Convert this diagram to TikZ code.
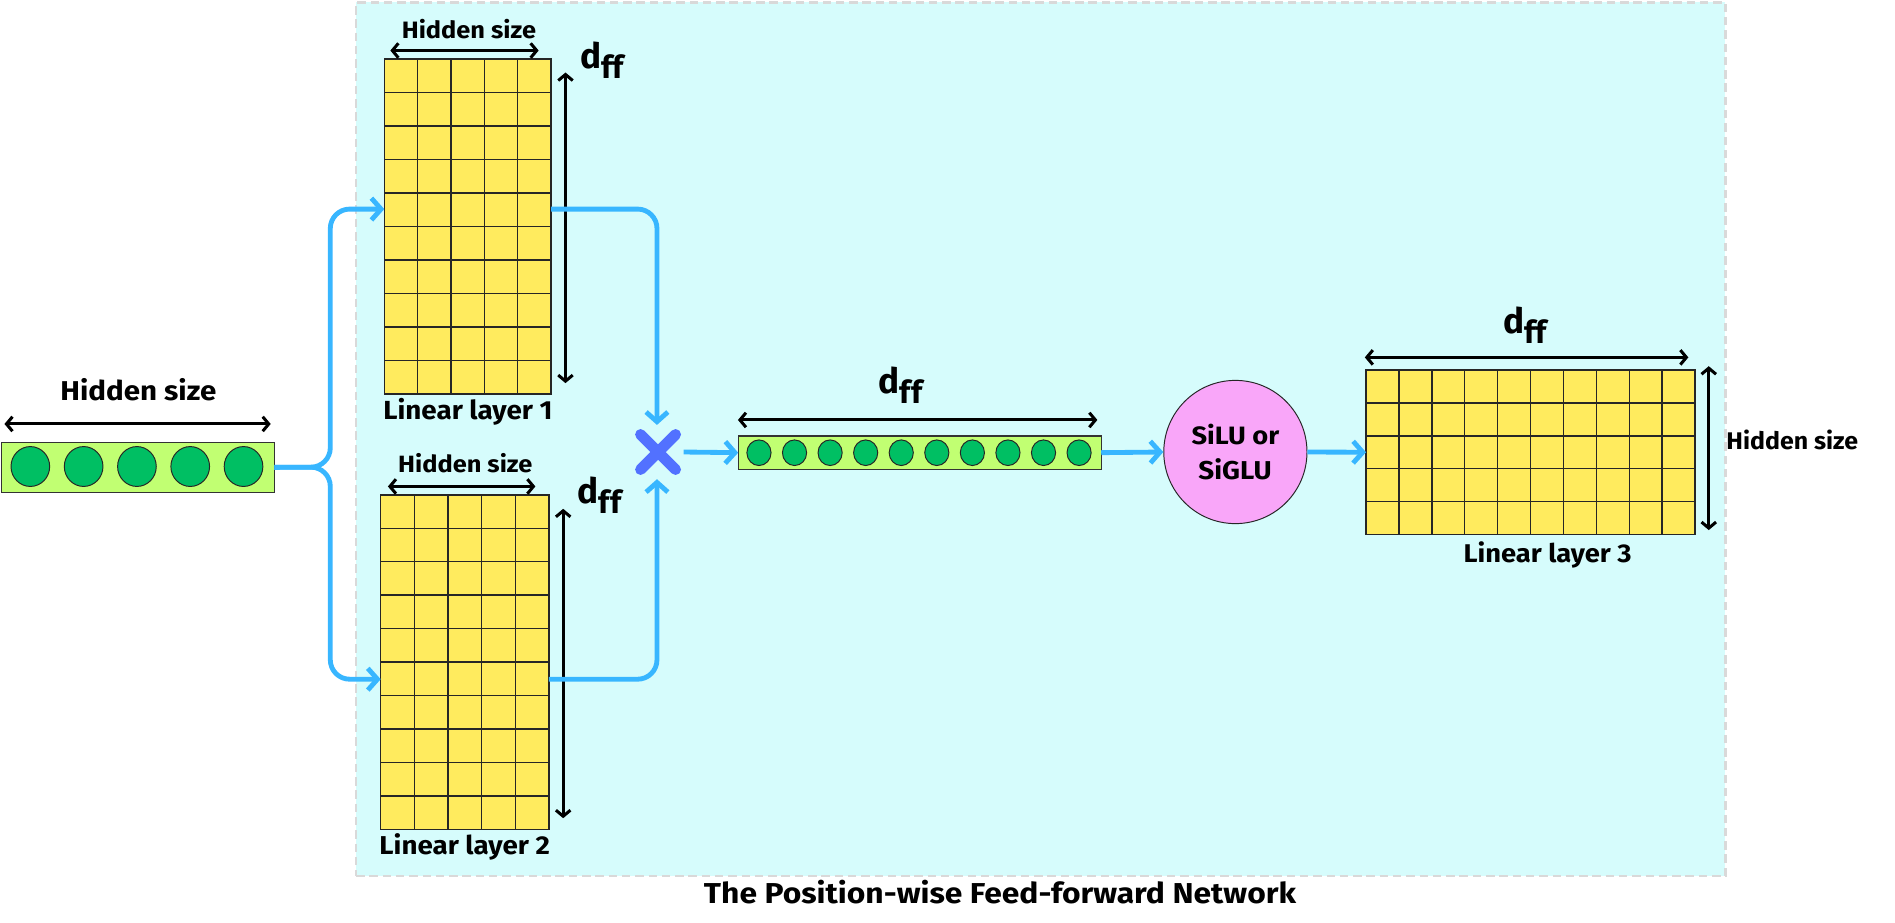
\documentclass[tikz,border=0pt]{standalone}
\usepackage{fontspec}
\setmainfont{Fira Sans}
\usetikzlibrary{arrows.meta,calc}
\definecolor{bgcyan}{HTML}{D6FCFC}
\definecolor{bgborder}{HTML}{D9D9D9}
\definecolor{vecfill}{HTML}{C1FF72}
\definecolor{dotgreen}{HTML}{00BF63}
\definecolor{cellyellow}{HTML}{FFEB5E}
\definecolor{actpink}{HTML}{F9A6F9}
\definecolor{flowblue}{HTML}{38B6FF}
\definecolor{mulblue}{HTML}{5271FF}
\newcommand\wgrid[7]{% name, x0, y0, cols, rows, w, h
  \node[matbox, anchor=north west, minimum width=#6pt, minimum height=#7pt] (#1) at (#2,#3) {};
  \foreach \i in {1,...,#4} \draw[gridline] ({#2+\i*#6/#4},#3) -- ++(0,#7);
  \foreach \j in {1,...,#5} \draw[gridline] (#2,{#3+\j*#7/#5}) -- ++(#6,0);
  \draw[gridline] (#2,#3) rectangle ++(#6,#7);
}
\newdimen\fitdim
\newsavebox\fittext
\newsavebox\fitcap
% width, cap height, text
\newcommand\fitw[3]{\sbox\fittext{#3}\sbox\fitcap{H}%
  \global\fitdim=\dimexpr\ht\fittext*\number\dimexpr#2pt\relax/\number\ht\fitcap\relax
  \resizebox{#1pt}{\fitdim}{#3}}
\newcommand\dff{{\fontsize{29}{29}\selectfont d}{\fontsize{26}{26}\selectfont\raisebox{-8.3pt}{ff}}}
\begin{document}
\begin{tikzpicture}[x=1pt,y=-1pt,
  lbl/.style={font=\bfseries\fontsize{20}{20}\selectfont, inner sep=0pt, anchor=base},
  dlbl/.style={font=\bfseries, inner sep=0pt, anchor=base west},
  dimarrow/.style={line width=2.5pt, {Straight Barb[length=5pt,width=12pt]}-{Straight Barb[length=5pt,width=12pt]}},
  flow/.style={draw=flowblue, line width=4pt, -{Straight Barb[length=8pt,width=18pt]}, rounded corners=16pt},
  matbox/.style={fill=cellyellow, inner sep=0pt, outer sep=0pt},
  gridline/.style={draw=black!85, line width=1.2pt},
  vecbox/.style={fill=vecfill, draw=black!80, line width=1pt, inner sep=0pt, outer sep=0pt},
  dot/.style={fill=dotgreen, draw=black!85, line width=0.8pt}
]
\useasboundingbox (0,0) rectangle (1568,763.7);
% background panel
\node[fill=bgcyan, draw=bgborder, line width=2pt, dash pattern=on 7pt off 4pt,
      anchor=north west, minimum width=1133pt, minimum height=723pt, inner sep=0pt] (panel) at (293.6,1) {};
\node[lbl] (title) at (827.5,747.4) {\fitw{490}{16.5}{The Position-wise Feed-forward Network}};

% input vector
\node[vecbox, anchor=north west, minimum width=226pt, minimum height=41pt] (in) at (1,366.2) {};
\foreach \k in {0,...,4} \draw[dot] ({25.1+44.1*\k},386) ellipse [x radius=16pt, y radius=16.5pt];
\node[lbl] (inlbl) at (114.5,331) {\fitw{129}{15.6}{Hidden size}};
\draw[dimarrow] (3.7,350.8) -- (224,350.8);

% linear layer 1
\wgrid{L1}{318}{49}{5}{10}{138}{277}
\node[lbl] (L1top) at (388,31.6) {\fitw{111}{13.6}{Hidden size}};
\draw[dimarrow] (323,41.8) -- (445.7,41.8);
\node[dlbl] (L1d) at (480,56.3) {\dff};
\draw[dimarrow] (467.9,60) -- (467.9,317);
\node[lbl] (L1name) at (387.2,347.5) {\fitw{140}{15}{Linear layer 1}};

% linear layer 2
\wgrid{L2}{315}{409.4}{5}{10}{139.2}{277}
\node[lbl] (L2top) at (385,391) {\fitw{111}{13.5}{Hidden size}};
\draw[dimarrow] (321,402.5) -- (443,402.5);
\node[dlbl] (L2d) at (478,416.3) {\dff};
\draw[dimarrow] (466,421) -- (466,677);
\node[lbl] (L2name) at (384.5,706.9) {\fitw{141}{14.8}{Linear layer 2}};

% multiply
\node[minimum size=42pt, inner sep=0pt] (mul) at (544.5,374) {};
\draw[mulblue, line width=9pt, line cap=round] (530,359.5) -- (559,388.5) (559,359.5) -- (530,388.5);

% middle vector
\node[vecbox, anchor=north west, minimum width=300.4pt, minimum height=27.5pt] (mid) at (610.8,360.8) {};
\foreach \k in {0,...,9} \draw[dot] ({628+29.43*\k},374.6) ellipse [x radius=10pt, y radius=10.6pt];
\node[dlbl] (midd) at (727,325.4) {\dff};
\draw[dimarrow] (610.6,347.5) -- (908,347.5);

% activation
\node[circle, fill=actpink, draw=black!85, line width=0.8pt, minimum size=118.5pt, inner sep=0pt] (act) at (1022.2,374) {};
\node[lbl] (act1) at (1022.2,367.4) {\fitw{72.5}{14.4}{SiLU or}};
\node[lbl] (act2) at (1021.9,397) {\fitw{60.7}{14.8}{SiGLU}};

% linear layer 3
\wgrid{L3}{1130.3}{306.2}{10}{5}{272.3}{136}
\node[dlbl] (L3d) at (1244,275.8) {\dff};
\draw[dimarrow] (1129.3,295.7) -- (1397,295.7);
\draw[dimarrow] (1413.9,303) -- (1413.9,438.6);
\node[lbl] (L3side) at (1483,371.8) {\fitw{109}{13.8}{Hidden size}};
\node[lbl] (L3name) at (1280.5,465.6) {\fitw{139}{14.7}{Linear layer 3}};

% connectors
\coordinate (L1in) at (318,173);
\coordinate (L2in) at (315,562);
\coordinate (L1out) at (456,173);
\coordinate (L2out) at (454.2,562);
\coordinate (mulN) at (543.6,351.6);
\coordinate (mulS) at (543.6,396.5);
\coordinate (split) at (273.3,386.5);
\draw[flow] (in.east) -- (split) |- (L1in);
\draw[flow] (in.east) -- (split) |- (L2in);
\draw[flow] (L1out) -| (mulN);
\draw[flow] (L2out) -| (mulS);
\draw[flow] (mul.east) -- (mid.west);
\draw[flow] (mid.east) -- (act.west);
\draw[flow] (act.east) -- (L3.west);
\end{tikzpicture}
\end{document}
